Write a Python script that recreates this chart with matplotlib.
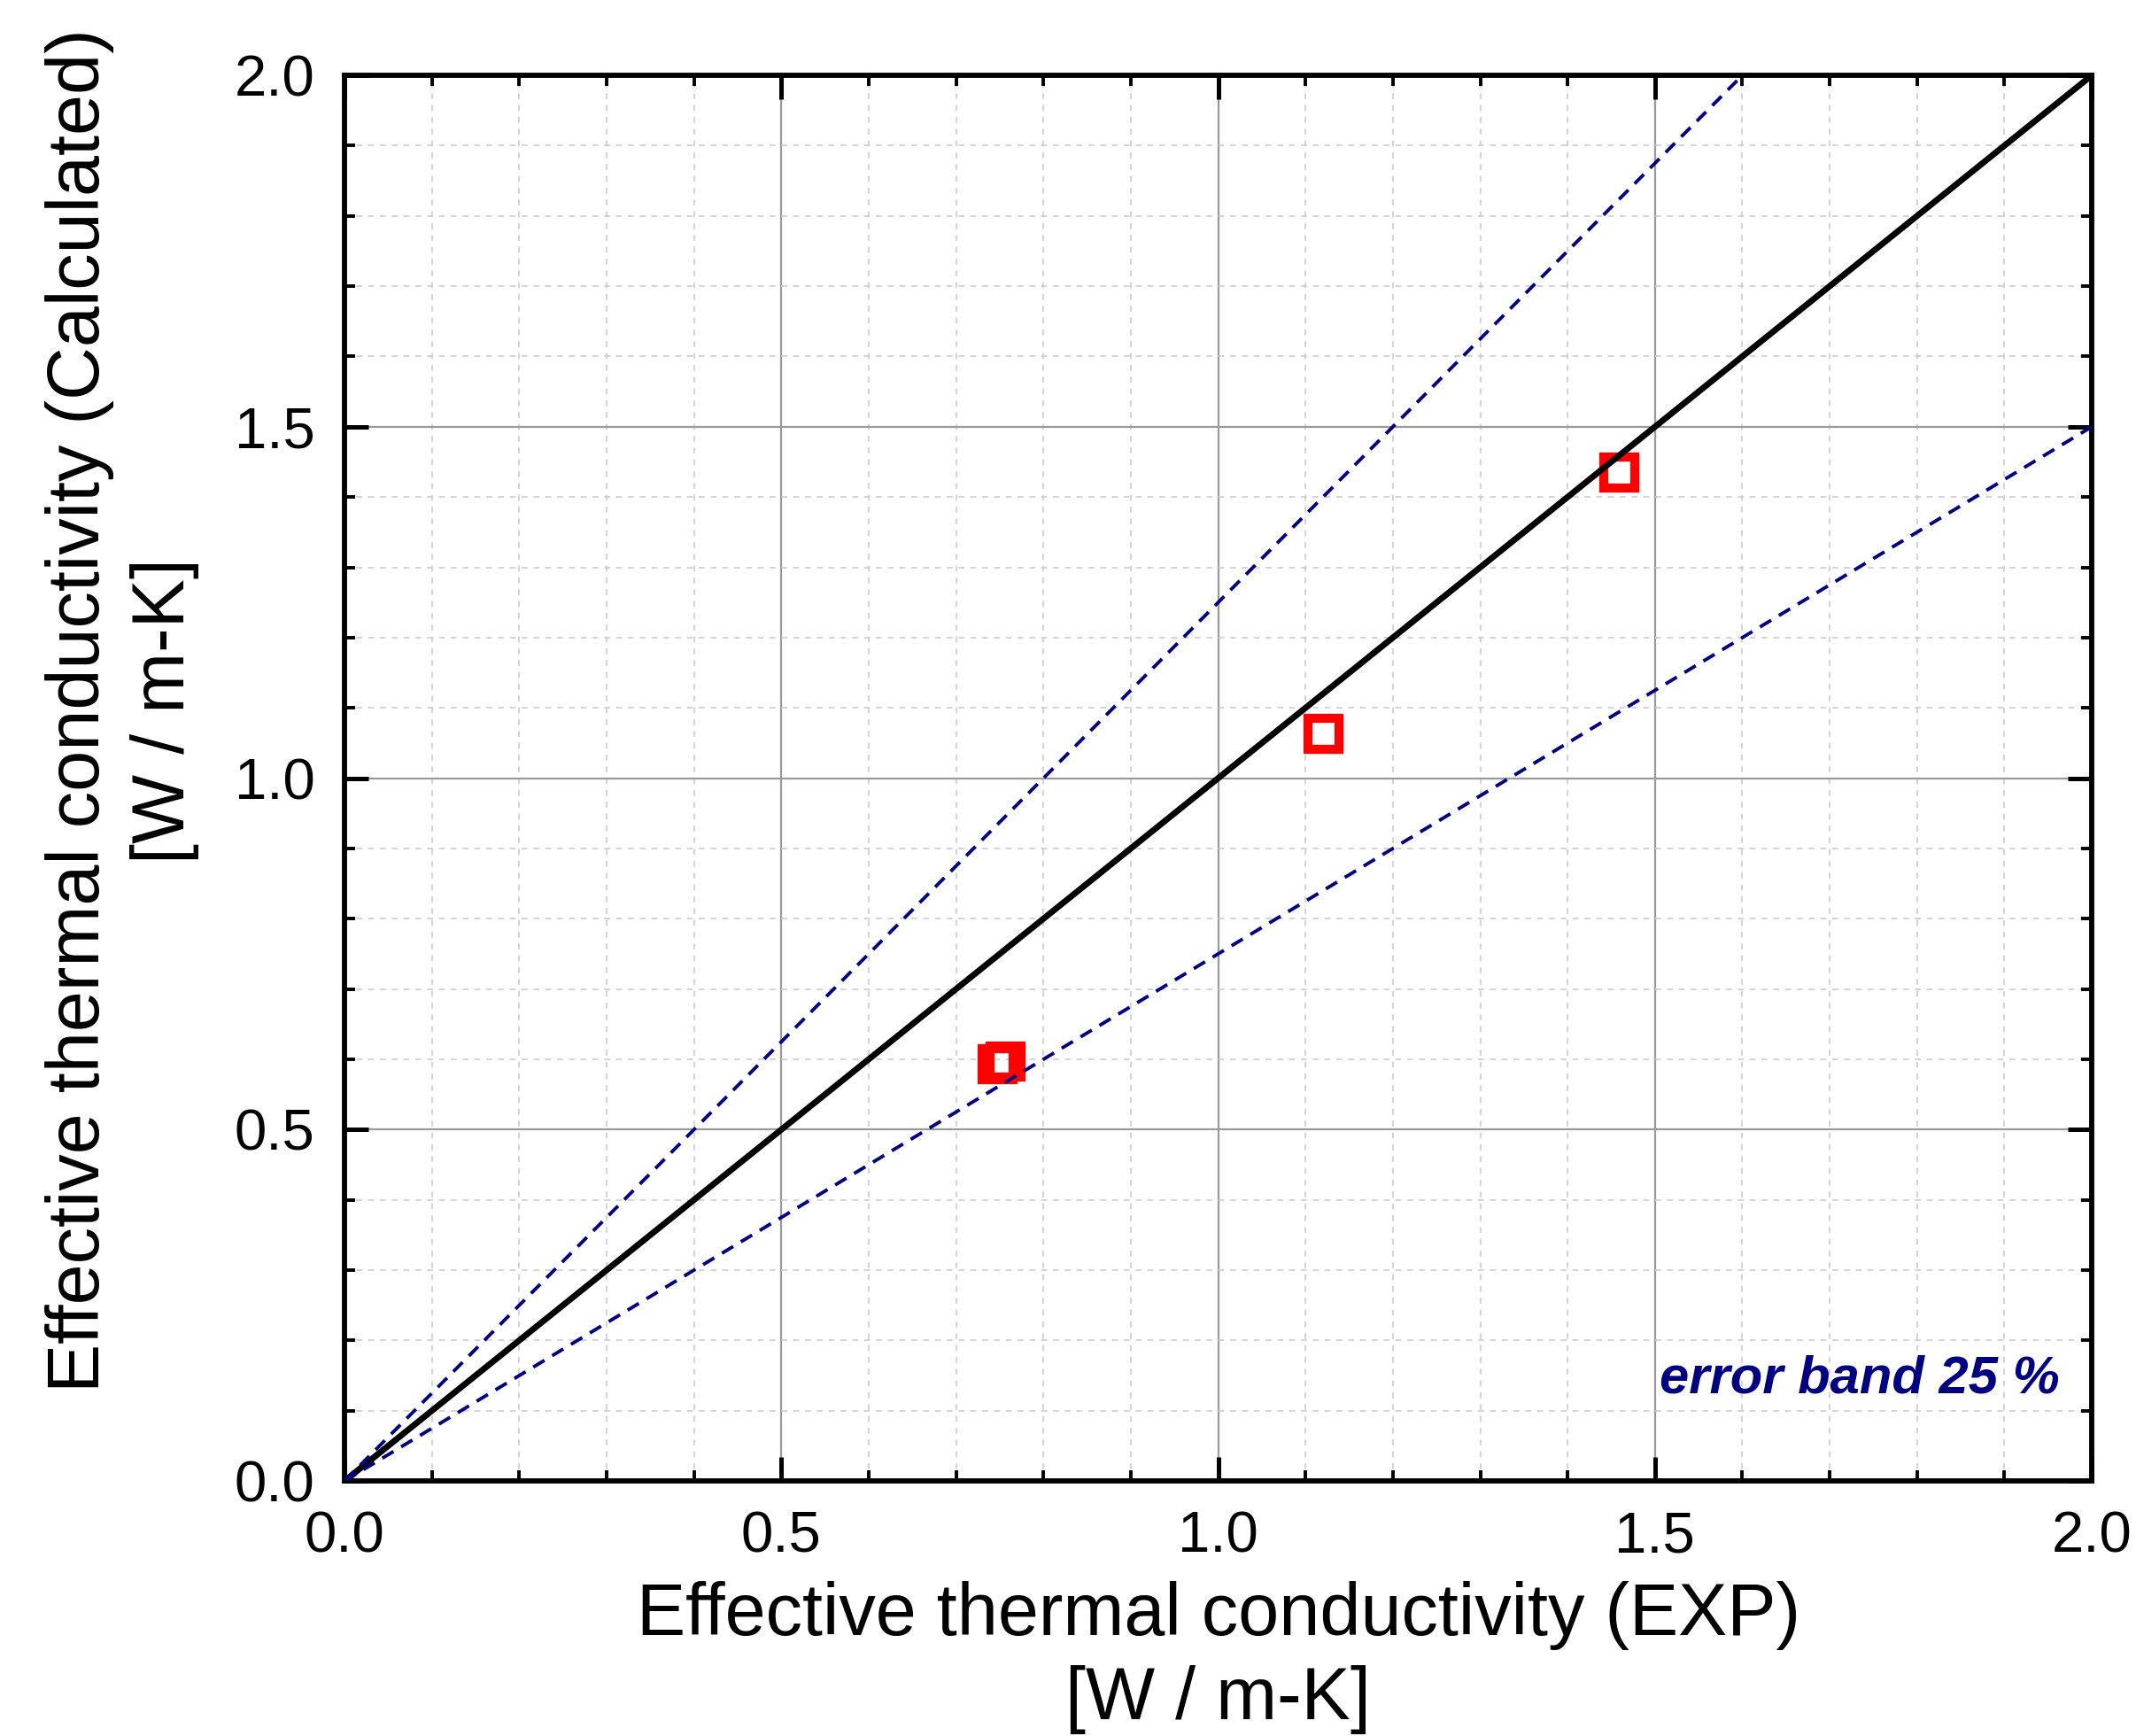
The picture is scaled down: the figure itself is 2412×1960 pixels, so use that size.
import matplotlib
matplotlib.use("Agg")
import matplotlib.pyplot as plt
import numpy as np
from matplotlib.ticker import MultipleLocator

plt.rcParams['font.family'] = ['Liberation Sans', 'DejaVu Sans']

# measured vs calculated effective thermal conductivity [W / m-K]
k_exp = [0.747, 0.756, 1.120, 1.459]
k_calc = [0.594, 0.598, 1.064, 1.435]

# reference lines: perfect agreement and +/-25 % band
line_x = [0.0, 2.0]
band = 0.25

fig = plt.figure(figsize=(12.06, 9.8), dpi=200)
ax = fig.add_axes([0.1613, 0.1469, 0.818, 0.8097])

ax.plot(k_exp, k_calc, linestyle='none', marker='s', markersize=12.6,
        markerfacecolor='none', markeredgecolor='#ff0000',
        markeredgewidth=3.7, zorder=3)
ax.plot(line_x, line_x, color='black', lw=2.5, zorder=4)
ax.plot(line_x, [v * (1 + band) for v in line_x], color='#000080', lw=1.4,
        dashes=(3.8, 2.6), zorder=5)
ax.plot(line_x, [v * (1 - band) for v in line_x], color='#000080', lw=1.4,
        dashes=(3.8, 2.6), zorder=5)

ax.text(1.963, 0.126, 'error band 25 %', color='#000080', fontsize=21.5,
        fontweight='bold', fontstyle='italic', ha='right', va='baseline')

ax.set_xlim(0, 2)
ax.set_ylim(0, 2)
ax.xaxis.set_major_locator(MultipleLocator(0.5))
ax.yaxis.set_major_locator(MultipleLocator(0.5))
ax.xaxis.set_minor_locator(MultipleLocator(0.1))
ax.yaxis.set_minor_locator(MultipleLocator(0.1))
ax.xaxis.set_major_formatter(matplotlib.ticker.FormatStrFormatter('%.1f'))
ax.yaxis.set_major_formatter(matplotlib.ticker.FormatStrFormatter('%.1f'))

ax.grid(which='major', color='#999999', lw=0.8, ls='-')
ax.grid(which='minor', color='#cccccc', lw=0.6, ls=(0, (4, 4)))
ax.set_axisbelow(True)

ax.tick_params(which='both', direction='in', top=True, right=True,
               color='black', labelsize=23.5, pad=12)
ax.tick_params(which='major', length=9.7, width=1.8)
ax.tick_params(which='minor', length=4.3, width=1.4)
for s in ax.spines.values():
    s.set_linewidth(2.1)

ax.set_xlabel('Effective thermal conductivity (EXP)\n[W / m-K]',
              fontsize=29.8, linespacing=1.28, labelpad=7)
ax.set_ylabel('Effective thermal conductivity (Calculated)\n[W / m-K]',
              fontsize=29.8, linespacing=1.3)
ax.yaxis.set_label_coords(-0.083, 0.548)

fig.savefig('out.png', dpi=200)
